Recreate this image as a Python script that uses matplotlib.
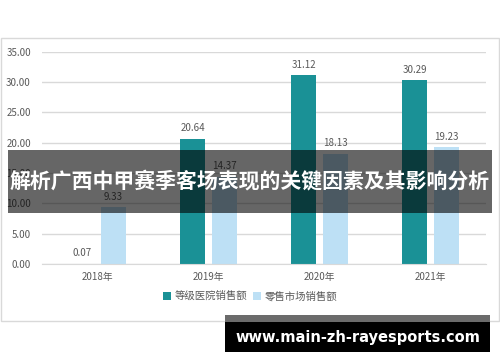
import matplotlib
matplotlib.use("Agg")
import matplotlib.pyplot as plt
from matplotlib.patches import Rectangle
import numpy as np

plt.rcParams['font.family'] = ['Noto Sans CJK SC', 'DejaVu Sans']

categories = ['2018年', '2019年', '2020年', '2021年']
hospital = [0.07, 20.64, 31.12, 30.29]
retail = [9.33, 14.37, 18.13, 19.23]
series_names = ['等级医院销售额', '零售市场销售额']
yticks = [0, 5, 10, 15, 20, 25, 30, 35]
title = '解析广西中甲赛季客场表现的关键因素及其影响分析'
watermark = 'www.main-zh-rayesports.com'

teal = '#1a9196'
light = '#bde0f5'
grey_txt = '#595959'

fig = plt.figure(figsize=(5, 3.62), dpi=100)
# chart frame
fig.patches.append(Rectangle((0.002, (362 - 321) / 362), 0.996, (321 - 38) / 362,
                             transform=fig.transFigure, facecolor='white',
                             edgecolor='#d9d9d9', linewidth=1, zorder=-2))

ax = fig.add_axes([0.084, 0.2707, 0.888, 0.5865])
ax.set_facecolor('none')
x = np.arange(len(categories))
w = 0.225
off = 0.14
b1 = ax.bar(x - off, hospital, w, color=teal, label=series_names[0], zorder=2)
b2 = ax.bar(x + off, retail, w, color=light, label=series_names[1], zorder=2)
for bars in (b1, b2):
    for r in bars:
        ax.annotate(f'{r.get_height():.2f}', (r.get_x() + r.get_width() / 2, r.get_height()),
                    xytext=(0, 4), textcoords='offset points', ha='center', va='bottom',
                    fontsize=7, color=grey_txt)
ax.set_xlim(-0.5, 3.5)
ax.set_ylim(0, 35)
ax.set_yticks(yticks)
ax.set_yticklabels([f'{v:.2f}' for v in yticks])
ax.set_xticks(x)
ax.set_xticklabels(categories)
ax.grid(axis='y', color='#d9d9d9', linewidth=1, zorder=0)
ax.set_axisbelow(True)
for s in ['top', 'right', 'left']:
    ax.spines[s].set_visible(False)
ax.spines['bottom'].set_color('#d9d9d9')
ax.tick_params(axis='both', length=0, labelsize=7, labelcolor=grey_txt)
ax.tick_params(axis='y', pad=8)
ax.tick_params(axis='x', pad=6)

fig.legend(handles=[b1, b2], loc='center', bbox_to_anchor=(0.5, 0.182), ncol=2,
           frameon=False, fontsize=7.5, labelcolor=grey_txt, handlelength=0.8,
           handleheight=0.8, handletextpad=0.3, columnspacing=0.6)

# banner overlay
fig.patches.append(Rectangle((0.016, 0.4124), 0.968, 0.1732, transform=fig.transFigure,
                             facecolor='black', alpha=0.6, edgecolor='none', zorder=5))
fig.text(0.5, 0.4124 + 0.1732 / 2, title, ha='center', va='center', color='white',
         fontsize=15, fontweight='bold', zorder=6)

# watermark
fig.patches.append(Rectangle((0.45, 0.1105), 0.53, 0.0193, transform=fig.transFigure,
                             facecolor='#6b6b6b', edgecolor='none', zorder=5))
fig.patches.append(Rectangle((0.45, 0.0276), 0.53, 0.0829, transform=fig.transFigure,
                             facecolor='black', edgecolor='none', zorder=5))
fig.text(0.715, 0.0276 + 0.0829 / 2, watermark, ha='center', va='center', color='white',
         fontsize=10.5, fontweight='bold', family=['DejaVu Sans'], zorder=6)

fig.savefig('out.png', dpi=100)
